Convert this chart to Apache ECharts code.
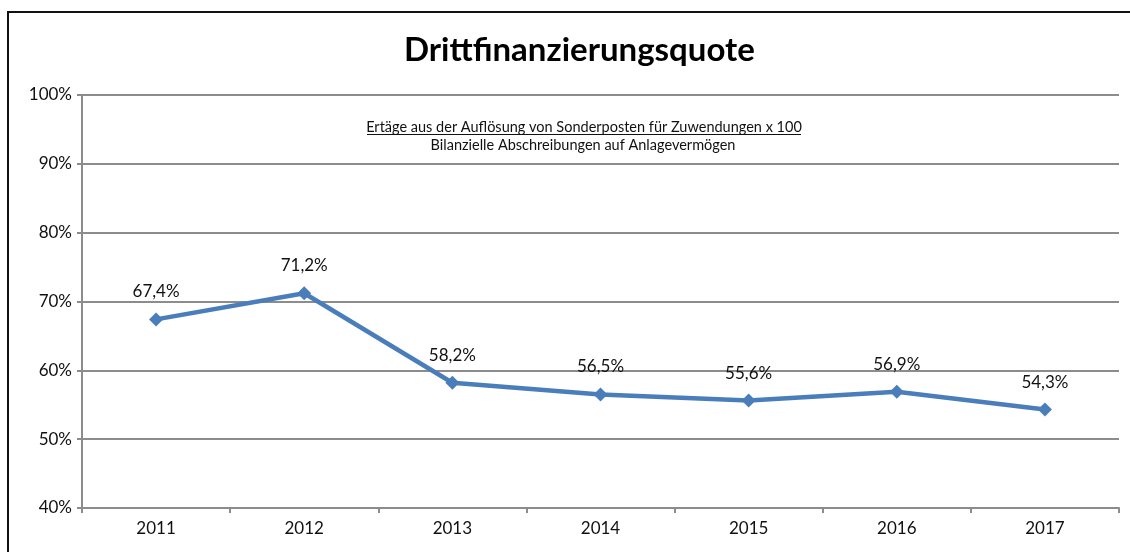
<!DOCTYPE html>
<html>
<head>
<meta charset="utf-8">
<script src="https://cdn.jsdelivr.net/npm/echarts@6/dist/echarts.min.js"></script>
<style>
  html, body { margin: 0; padding: 0; background: #fff; }
  #chart { width: 1130px; height: 552px; }
</style>
</head>
<body>
<div id="chart"></div>
<script>
var years = ['2011', '2012', '2013', '2014', '2015', '2016', '2017'];
var quote = [67.4, 71.2, 58.2, 56.5, 55.6, 56.9, 54.3];
var titleText = 'Drittfinanzierungsquote';
var noteTop = 'Ertäge aus der Auflösung von Sonderposten für Zuwendungen x 100';
var noteBottom = 'Bilanzielle Abschreibungen auf Anlagevermögen';

var font = 'Lato, "Open Sans", sans-serif';
var gray = '#8c8c8c';

var myChart = echarts.init(document.getElementById('chart'));
var option = {
    backgroundColor: '#fff',
    animation: false,
    title: {
        text: titleText,
        left: 399,
        top: 29,
        textStyle: { fontFamily: font, fontSize: 33, fontWeight: 'bold', color: '#000' }
    },
    graphic: [
        // outer frame (only left and top edges are in view)
        { type: 'rect', shape: { x: 8, y: 12, width: 1140, height: 560 },
          style: { fill: 'none', stroke: '#111', lineWidth: 2 }, z: 100 },
        { type: 'text', x: 584, y: 120,
          style: { text: noteTop, align: 'center', fontFamily: font, fontSize: 14.5, fill: '#111' } },
        { type: 'line', shape: { x1: 367, y1: 134.5, x2: 801, y2: 134.5 },
          style: { stroke: '#111', lineWidth: 1 } },
        { type: 'text', x: 583, y: 138,
          style: { text: noteBottom, align: 'center', fontFamily: font, fontSize: 14.5, fill: '#111' } }
    ],
    grid: { left: 82, right: 11, top: 95, bottom: 44 },
    xAxis: {
        type: 'category',
        data: years,
        boundaryGap: true,
        axisLine: { lineStyle: { color: gray, width: 2 } },
        axisTick: { show: true, length: 5, lineStyle: { color: gray, width: 2 } },
        axisLabel: { color: '#111', fontFamily: font, fontSize: 17, margin: 12 }
    },
    yAxis: {
        type: 'value',
        min: 40,
        max: 100,
        interval: 10,
        axisLine: { show: true, lineStyle: { color: gray, width: 2 } },
        axisTick: { show: true, length: 5, lineStyle: { color: gray, width: 2 } },
        axisLabel: { formatter: '{value}%', color: '#111', fontFamily: font, fontSize: 17, margin: 10 },
        splitLine: { lineStyle: { color: gray, width: 2 } }
    },
    series: [{
        type: 'line',
        data: quote,
        symbol: 'diamond',
        symbolSize: 14,
        lineStyle: { color: '#4a7ebb', width: 4.5 },
        itemStyle: { color: '#4a7ebb' },
        label: {
            show: true,
            position: 'top',
            distance: 12,
            color: '#111',
            fontFamily: font,
            fontSize: 17,
            formatter: function (p) { return p.value.toFixed(1).replace('.', ',') + '%'; }
        }
    }]
};
myChart.setOption(option);
</script>
</body>
</html>
